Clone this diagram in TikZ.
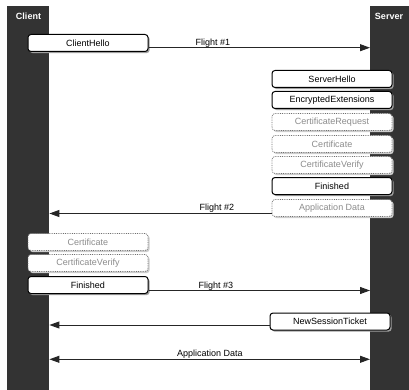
\documentclass[tikz,border=0pt]{standalone}
\usepackage{fontspec}
\setmainfont{Liberation Sans}
\usetikzlibrary{positioning}
\usetikzlibrary{shadows}
\usetikzlibrary{arrows.meta}
\definecolor{barcolor}{HTML}{333333}
\definecolor{optgray}{HTML}{8C8C8C}
\definecolor{optline}{HTML}{707070}

\begin{document}
\begin{tikzpicture}[x=1pt, y=-1pt, font=\fontsize{9}{11}\selectfont,
    lifeline/.style={fill=barcolor, anchor=north west, minimum height=384pt, inner sep=0pt},
    party/.style={text=white, font=\fontsize{9}{11}\selectfont\bfseries, anchor=base},
    boxbase/.style={rounded corners=3pt, fill=white, minimum width=120pt, minimum height=17pt, inner sep=0pt},
    msg/.style={boxbase, draw=black, line width=1pt, drop shadow={shadow xshift=1.6pt, shadow yshift=-1.6pt, opacity=1, fill=gray!75}},
    optmsg/.style={boxbase, draw=optline, densely dotted, line width=0.8pt, text=optgray, drop shadow={shadow xshift=1.6pt, shadow yshift=-1.6pt, opacity=1, fill=gray!40}},
    flight/.style={draw=black!85, line width=1pt, -{Triangle[length=10pt,width=7pt]}},
    flightlbl/.style={anchor=base, inner sep=0pt}]
    \useasboundingbox (0,0) rectangle (409,390);
    % Lifelines
    \node[lifeline, minimum width=42pt] (client) at (7,6) {};
    \node[lifeline, minimum width=39pt] (server) at (370,6) {};
    \node[party] (clientlbl) at (28.5,20) {Client};
    \node[party] (serverlbl) at (389,20) {Server};

    % Messages
    \node[msg] (chello) at (88,43) {ClientHello};
    \node[msg] (shello) at (332,79) {ServerHello};
    \node[msg] (encext) at (332,100) {EncryptedExtensions};
    \node[optmsg] (certreq) at (332,122) {CertificateRequest};
    \node[optmsg] (scert) at (332,144) {Certificate};
    \node[optmsg] (scertv) at (332,165) {CertificateVerify};
    \node[msg] (sfin) at (332,186) {Finished};
    \node[optmsg] (sappdata) at (332,208) {Application Data};
    \node[optmsg] (ccert) at (88,242) {Certificate};
    \node[optmsg] (ccertv) at (88,263) {CertificateVerify};
    \node[msg] (cfin) at (88,285) {Finished};
    \node[msg] (ticket) at (330,321.5) {NewSessionTicket};

    % Flights
    \coordinate (f1) at (0,47.7);
    \coordinate (f2) at (0,213.5);
    \coordinate (f3) at (0,290.5);
    \coordinate (f4) at (0,325);
    \coordinate (f5) at (0,359.3);
    \draw[flight] (chello.east |- f1) -- (server.west |- f1);
    \draw[flight] (sappdata.west |- f2) -- (client.east |- f2);
    \draw[flight] (cfin.east |- f3) -- (server.west |- f3);
    \draw[flight] (ticket.west |- f4) -- (client.east |- f4);
    \draw[flight, {Triangle[length=10pt,width=7pt]}-{Triangle[length=10pt,width=7pt]}] (client.east |- f5) -- (server.west |- f5);
    \node[flightlbl] (f1lbl) at (213,45.5) {Flight \#1};
    \node[flightlbl] (f2lbl) at (217,210) {Flight \#2};
    \node[flightlbl] (f3lbl) at (216,288) {Flight \#3};
    \node[flightlbl] (f5lbl) at (210,356.5) {Application Data};
\end{tikzpicture}
\end{document}
